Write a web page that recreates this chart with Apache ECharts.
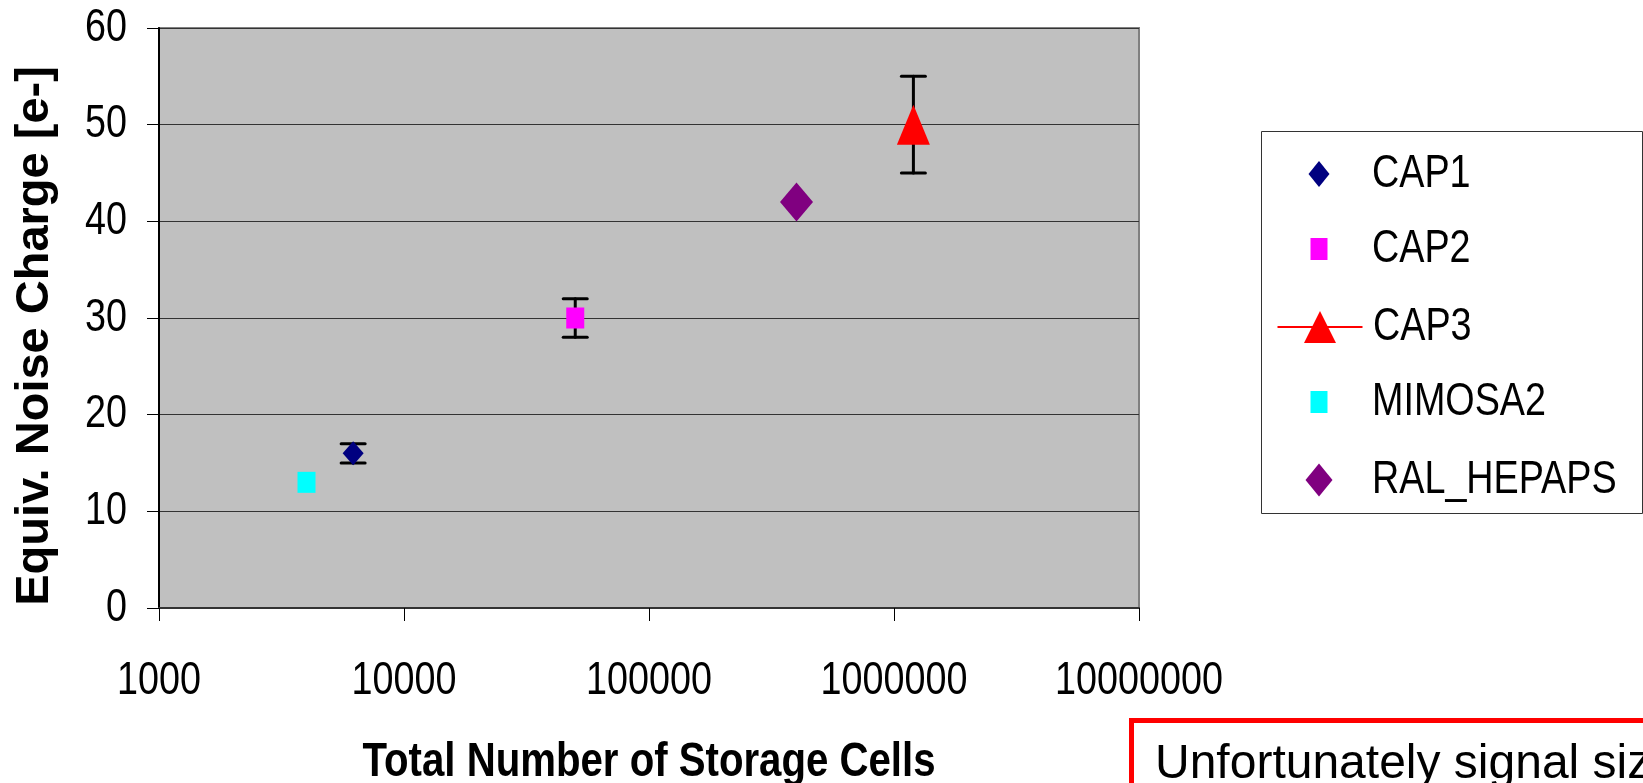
<!DOCTYPE html>
<html>
<head>
<meta charset="utf-8">
<script src="https://cdn.jsdelivr.net/npm/echarts@6/dist/echarts.min.js"></script>
<style>
html,body{margin:0;padding:0;background:#fff;}
#chart{width:1643px;height:783px;}
</style>
</head>
<body>
<div id="chart"></div>
<script>
// ---- data ----
const seriesNames = ['CAP1', 'CAP2', 'CAP3', 'MIMOSA2', 'RAL_HEPAPS'];
const cap1Cells = [6200];     const cap1Noise = [16];   const cap1Err = [1];
const cap2Cells = [50000];    const cap2Noise = [30];   const cap2Err = [2];
const cap3Cells = [1200000];  const cap3Noise = [50];   const cap3Err = [5];
const mimosa2Cells = [4000];  const mimosa2Noise = [13];
const ralCells = [400000];    const ralNoise = [42];
const xTickLabels = ['1000', '10000', '100000', '1000000', '10000000'];
const yTicks = [0, 10, 20, 30, 40, 50, 60];
const xTitle = 'Total Number of Storage Cells';
const yTitle = 'Equiv. Noise Charge [e-]';
const noteText = 'Unfortunately signal size';

const NARROW = '"Liberation Sans Narrow", "Liberation Sans", Arial, sans-serif';
const SANS = '"Liberation Sans", Arial, sans-serif';
const NARROW_SCALE = 0.82;

function pts(xs, ys) { return xs.map((x, i) => [x, ys[i]]); }
function errPts(xs, ys, es) { return xs.map((x, i) => [x, ys[i], es[i]]); }

function errorSeries(name, data) {
  return {
    name: name, type: 'custom', z: 1, silent: true,
    data: data,
    renderItem: function (params, api) {
      const x = api.value(0), y = api.value(1), e = api.value(2);
      const hi = api.coord([x, y + e]);
      const lo = api.coord([x, y - e]);
      const hw = 12;
      const st = { stroke: '#000', lineWidth: 3, lineCap: 'round' };
      return {
        type: 'group', children: [
          { type: 'line', shape: { x1: hi[0], y1: hi[1], x2: lo[0], y2: lo[1] }, style: st },
          { type: 'line', shape: { x1: hi[0] - hw, y1: hi[1], x2: hi[0] + hw, y2: hi[1] }, style: st },
          { type: 'line', shape: { x1: lo[0] - hw, y1: lo[1], x2: lo[0] + hw, y2: lo[1] }, style: st }
        ]
      };
    }
  };
}

// legend geometry: [iconCenterX, iconCenterY, itemWidth, itemHeight]
const legendGeom = [
  [1319, 174, 21, 26],
  [1319, 249, 17, 22],
  [1319, 327, 85, 40],
  [1319, 402, 17, 22],
  [1319, 480, 27, 33]
];
const legendTextX = 1372;
const legends = seriesNames.map((n, i) => {
  const g = legendGeom[i];
  const left = g[0] - g[2] / 2;
  const padL = (legendTextX - (left + g[2] + 5)) / NARROW_SCALE;
  return {
    data: [n], orient: 'vertical', left: left, top: g[1] - 29, padding: 0,
    itemWidth: g[2], itemHeight: g[3], symbolKeepAspect: false,
    selectedMode: false,
    textStyle: { fontFamily: NARROW, fontSize: 46, color: '#000', padding: [0, 0, 12, padL], lineHeight: 46 }
  };
});

const chart = echarts.init(document.getElementById('chart'), null, { renderer: 'canvas' });
chart.setOption({
  animation: false,
  backgroundColor: '#ffffff',
  grid: {
    left: 159, top: 28, right: 504, bottom: 175,
    containLabel: false, outerBoundsMode: 'none',
    show: true, backgroundColor: '#C0C0C0', borderColor: '#808080', borderWidth: 2
  },
  legend: legends,
  xAxis: {
    type: 'log', logBase: 10, min: 1000, max: 10000000,
    name: xTitle, nameLocation: 'middle', nameGap: 130,
    nameTextStyle: { fontFamily: NARROW, fontWeight: 'bold', fontSize: 49, color: '#000' },
    axisLine: { show: true, lineStyle: { color: '#333', width: 2 } },
    axisTick: { show: true, inside: false, length: 13, lineStyle: { color: '#000', width: 1 } },
    axisLabel: {
      margin: 50, fontFamily: NARROW, fontSize: 46, color: '#000',
      formatter: function (v) {
        const k = Math.round(Math.log10(v)) - 3;
        return xTickLabels[k] !== undefined ? xTickLabels[k] : '';
      }
    },
    splitLine: { show: false },
    minorTick: { show: false }
  },
  yAxis: {
    type: 'value', min: yTicks[0], max: yTicks[yTicks.length - 1], interval: 10,
    name: yTitle, nameLocation: 'middle', nameGap: 100,
    nameTextStyle: { fontFamily: SANS, fontWeight: 'bold', fontSize: 47, color: '#000', padding: [0, 36, 0, 0] },
    axisLine: { show: true, lineStyle: { color: '#000', width: 2 } },
    axisTick: { show: true, inside: false, length: 12, lineStyle: { color: '#000', width: 1 } },
    axisLabel: { margin: 32, fontFamily: NARROW, fontSize: 46, color: '#000' },
    splitLine: { show: true, lineStyle: { color: '#333', width: 1 } }
  },
  series: [
    errorSeries('CAP1 error', errPts(cap1Cells, cap1Noise, cap1Err)),
    errorSeries('CAP2 error', errPts(cap2Cells, cap2Noise, cap2Err)),
    errorSeries('CAP3 error', errPts(cap3Cells, cap3Noise, cap3Err)),
    { name: 'CAP1', type: 'scatter', z: 3, symbol: 'diamond', symbolSize: [21, 24],
      itemStyle: { color: '#000080', opacity: 1 }, data: pts(cap1Cells, cap1Noise) },
    { name: 'CAP2', type: 'scatter', z: 3, symbol: 'rect', symbolSize: [18, 21],
      itemStyle: { color: '#FF00FF', opacity: 1 }, data: pts(cap2Cells, cap2Noise) },
    { name: 'CAP3', type: 'line', z: 3, symbol: 'triangle', symbolSize: [33, 40], showSymbol: true,
      itemStyle: { color: '#FF0000' }, lineStyle: { color: '#FF0000', width: 1 }, data: pts(cap3Cells, cap3Noise) },
    { name: 'MIMOSA2', type: 'scatter', z: 3, symbol: 'rect', symbolSize: [18, 21],
      itemStyle: { color: '#00FFFF', opacity: 1 }, data: pts(mimosa2Cells, mimosa2Noise) },
    { name: 'RAL_HEPAPS', type: 'scatter', z: 3, symbol: 'diamond', symbolSize: [33, 39],
      itemStyle: { color: '#800080', opacity: 1 }, data: pts(ralCells, ralNoise) }
  ],
  graphic: [
    { type: 'rect', left: 1261, top: 131, z: -1, silent: true,
      shape: { width: 381, height: 382 }, style: { fill: '#fff', stroke: '#333', lineWidth: 1 } },
    { type: 'rect', left: 1129, top: 718, silent: true,
      shape: { x: 0, y: 0, width: 600, height: 100 }, style: { fill: '#fff', stroke: '#FF0000', lineWidth: 5 } },
    { type: 'text', left: 1155, top: 741, silent: true,
      style: { text: noteText, fontFamily: SANS, fontSize: 48, fill: '#000' } }
  ]
});

// The reference uses a condensed sans face; no condensed face is installed,
// so compress the texts set in the "narrow" family horizontally about their anchor.
(function narrowTexts() {
  const zr = chart.getZr();
  const visit = function (el) {
    if (!el) return;
    if (el.type === 'text' && el.style) {
      const ff = String(el.style.fontFamily || '') + String(el.style.font || '');
      if (ff.indexOf('Narrow') >= 0) {
        el.originX = el.style.x || 0;
        el.originY = el.style.y || 0;
        el.scaleX = NARROW_SCALE;
        el.markRedraw();
      }
    }
    if (el.isGroup && el.childrenRef) el.childrenRef().forEach(visit);
  };
  zr.storage.getRoots().forEach(visit);
  zr.refreshImmediately();
})();
</script>
</body>
</html>
